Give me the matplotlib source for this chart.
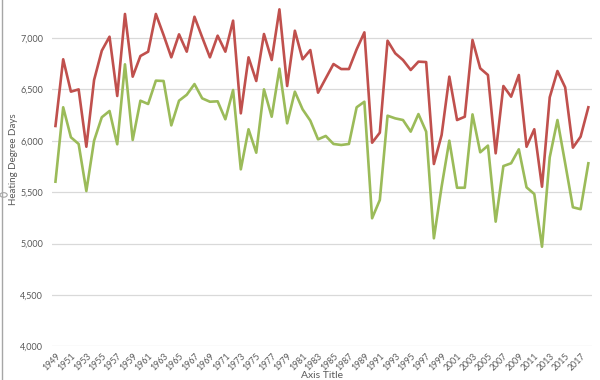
import numpy as np
import matplotlib
matplotlib.use("Agg")
import matplotlib.pyplot as plt
from matplotlib.lines import Line2D
from matplotlib.patches import Circle

plt.rcParams["font.family"] = ["Lato", "DejaVu Sans"]

years = list(range(1949, 2019))

# upper (red) series, heating degree days
hdd_red = [
    6144, 6793, 6478, 6500, 5942, 6591, 6877, 7013, 6436, 7234,
    6624, 6825, 6867, 7234, 7029, 6812, 7036, 6867, 7207, 7007,
    6812, 7023, 6867, 7169, 6267, 6812, 6582, 7039, 6786, 7279,
    6533, 7071, 6793, 6883, 6468, 6608, 6747, 6698, 6698, 6890,
    7055, 5981, 6079, 6974, 6851, 6786, 6689, 6770, 6766, 5774,
    6056, 6624, 6202, 6234, 6981, 6705, 6640, 5878, 6533, 6429,
    6640, 5942, 6112, 5553, 6423, 6679, 6520, 5933, 6040, 6326,
]

# lower (green) series
hdd_green = [
    5602, 6326, 6034, 5969, 5511, 6001, 6229, 6290, 5966, 6744,
    6008, 6390, 6358, 6585, 6582, 6150, 6390, 6448, 6552, 6413,
    6380, 6384, 6209, 6494, 5722, 6112, 5884, 6500, 6234, 6702,
    6170, 6478, 6306, 6196, 6014, 6047, 5969, 5959, 5969, 6326,
    6380, 5246, 5424, 6244, 6218, 6202, 6089, 6260, 6089, 5051,
    5553, 6001, 5543, 5543, 6257, 5888, 5953, 5213, 5754, 5781,
    5917, 5547, 5482, 4969, 5839, 6202, 5781, 5353, 5334, 5781,
]

y_ticks = [4000, 4500, 5000, 5500, 6000, 6500, 7000]
x_tick_years = years[0:-1:2]

text_grey = "#595959"

fig = plt.figure(figsize=(6.0, 3.8), dpi=100)
ax = fig.add_axes([0.086, 0.0887, 0.901, 0.9113])

ax.plot(years, hdd_red, color="#C0504D", linewidth=1.9, solid_joinstyle="round")
ax.plot(years, hdd_green, color="#9BBB59", linewidth=1.9, solid_joinstyle="round")

ax.set_xlim(years[0] - 0.5, years[-1] + 0.5)
ax.set_ylim(4000, 7370)

ax.set_yticks(y_ticks)
ax.set_yticklabels(["{:,}".format(v) for v in y_ticks])
ax.set_xticks(x_tick_years)
ax.set_xticklabels([str(y) for y in x_tick_years], rotation=45,
                   ha="right", rotation_mode="anchor")

ax.tick_params(axis="both", length=0, colors=text_grey)
ax.tick_params(axis="y", labelsize=6.5, pad=6)
ax.tick_params(axis="x", labelsize=6.3, pad=4)

ax.grid(axis="y", color="#D9D9D9", linewidth=0.9)
ax.set_axisbelow(True)
for s in ax.spines.values():
    s.set_visible(False)

ax.set_ylabel("Heating Degree Days", fontsize=7, color=text_grey)
ax.yaxis.set_label_coords(-0.063, 0.54)

fig.text(0.536, 0.013, "Axis Title", fontsize=7.5, color=text_grey,
         ha="center", va="center")

# chart frame edge and selection handle on the left
fig.add_artist(Line2D([0.004, 0.004], [0, 1], color="#A6A6A6", linewidth=1.0,
                      transform=fig.transFigure))
fig.add_artist(Circle((0.006, 0.487), 0.006, transform=fig.transFigure,
                      facecolor="white", edgecolor="#A6A6A6", linewidth=0.8))

fig.savefig("out.png", dpi=100)
